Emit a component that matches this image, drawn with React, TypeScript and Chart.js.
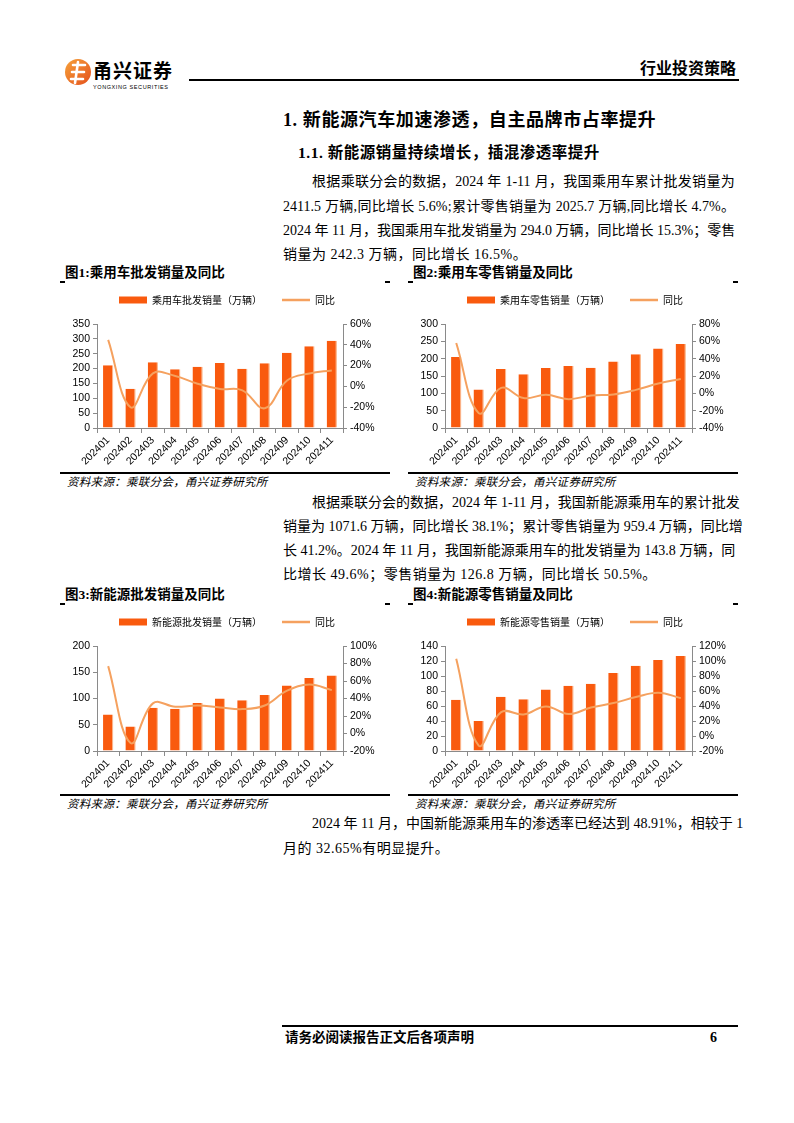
import React, { useEffect, useRef } from 'react';
import { Chart, registerables } from 'chart.js';
Chart.register(...registerables);

const months = ['202401', '202402', '202403', '202404', '202405', '202406', '202407', '202408', '202409', '202410', '202411'];
const pvWholesale = [211, 132, 221, 198, 206, 219, 199, 218, 253, 275, 294];
const pvWholesaleYoY = [44.7, -20, 12.5, 10, 2.5, -2.5, -3.8, -21, 5.7, 12.5, 15.3];
const pvRetail = [205, 111, 170, 155, 173, 179, 174, 192, 213, 229, 242.3];
const pvRetailYoY = [58, -22.8, 6.3, -5.5, -1.7, -6.7, -2.5, -1.3, 4, 11.3, 16.5];
const nevWholesale = [69.6, 46.6, 82.4, 80.5, 91.4, 100, 96.5, 106.7, 125, 139, 143.8];
const nevWholesaleYoY = [77, -10.8, 34.4, 30.6, 32, 29.8, 27.9, 32, 49, 55.9, 49.6];
const nevRetail = [68.2, 40.1, 72.2, 69.1, 82, 86.9, 89.6, 103.9, 113.7, 121.3, 126.8];
const nevRetailYoY = [103, -12.8, 31.9, 28.7, 39.4, 29.2, 38, 43.9, 51.9, 57.7, 50.5];

const BAR = '#F95A0E';
const LINE = '#F5A15F';
const AXIS = '#8a8a8a';
const SERIF = "'Liberation Serif', 'Noto Sans CJK SC', serif";
const CJK = "'Noto Sans CJK SC', sans-serif";

const legendSpacer = {
  id: 'legendSpacer',
  beforeLayout(chart: any) {
    const lg = chart.legend;
    if (lg && !lg._spaced) {
      const f = lg.fit;
      lg.fit = function () {
        f.call(this);
        this.height += 9;
      };
      lg._spaced = true;
    }
  },
};

type BoxProps = {
  left: number; top: number; width: number; height: number;
  barLabel: string; bars: number[]; yoy: number[];
  yMax: number; yStep: number; rMin: number; rMax: number;
  leftW: number; rightW: number;
};

function ChartBox(p: BoxProps) {
  const ref = useRef<HTMLCanvasElement>(null);
  useEffect(() => {
    const tickFont = { family: "'Liberation Sans', Arial, sans-serif", size: 10.5 };
    const chart = new Chart(ref.current!, {
      type: 'bar',
      data: {
        labels: months,
        datasets: [
          {
            type: 'bar', label: p.barLabel, data: p.bars, backgroundColor: BAR,
            borderColor: '#FBB98F', borderWidth: { top: 0, left: 0, bottom: 0, right: 1.2 } as any,
            barPercentage: 0.46, categoryPercentage: 1, yAxisID: 'y', order: 1,
          } as any,
          {
            type: 'line', label: '同比', data: p.yoy, borderColor: LINE, backgroundColor: LINE,
            borderWidth: 2, pointRadius: 0, tension: 0.4, yAxisID: 'y1', order: 0,
          } as any,
        ],
      },
      options: {
        animation: false,
        responsive: false,
        maintainAspectRatio: false,
        layout: { padding: 0 },
        plugins: {
          tooltip: { enabled: false },
          legend: {
            display: true,
            position: 'top',
            labels: {
              usePointStyle: true,
              pointStyleWidth: 28,
              boxHeight: 7,
              padding: 20,
              color: '#000',
              font: { family: CJK, size: 10 },
              sort: (a: any, b: any) => a.datasetIndex - b.datasetIndex,
              generateLabels: (chart: any) =>
                (Chart.defaults.plugins.legend.labels.generateLabels as any)(chart).map((it: any) => ({
                  ...it,
                  pointStyle: it.datasetIndex === 0 ? 'rect' : 'line',
                  lineWidth: it.datasetIndex === 0 ? 0 : 2.5,
                  fillStyle: it.datasetIndex === 0 ? BAR : LINE,
                  strokeStyle: it.datasetIndex === 0 ? BAR : LINE,
                })),
            },
          },
        },
        scales: {
          x: {
            grid: { display: true, drawOnChartArea: false, drawTicks: true, tickLength: 5, offset: true, color: AXIS },
            border: { color: AXIS },
            ticks: { color: '#000', font: tickFont, minRotation: 45, maxRotation: 45, autoSkip: false, padding: 1 },
            afterFit: (s: any) => { s.height = 42; },
          },
          y: {
            position: 'left', min: 0, max: p.yMax,
            grid: { display: true, drawOnChartArea: false, drawTicks: true, tickLength: 4, color: AXIS },
            border: { color: AXIS },
            ticks: { stepSize: p.yStep, autoSkip: false, color: '#000', font: tickFont, padding: 3 },
            afterFit: (s: any) => { s.width = p.leftW; },
          },
          y1: {
            position: 'right', min: p.rMin, max: p.rMax,
            grid: { display: true, drawOnChartArea: false, drawTicks: true, tickLength: 4, color: AXIS },
            border: { color: AXIS },
            ticks: { stepSize: 20, autoSkip: false, color: '#000', font: tickFont, padding: 3, callback: (v: any) => v + '%' },
            afterFit: (s: any) => { s.width = p.rightW; },
          },
        },
      } as any,
      plugins: [legendSpacer],
    });
    return () => chart.destroy();
  }, []);
  return (
    <canvas
      ref={ref}
      width={p.width}
      height={p.height}
      style={{ position: 'absolute', left: p.left, top: p.top, width: p.width, height: p.height }}
    />
  );
}

function T(props: { x: number; cy: number; size: number; text: string; bold?: boolean; italic?: boolean; family?: string; spacing?: number }) {
  const { x, cy, size, text, bold, italic, family, spacing } = props;
  return (
    <div
      style={{
        position: 'absolute', left: x, top: cy - size * 0.6, height: size * 1.2, lineHeight: size * 1.2 + 'px',
        fontSize: size, fontFamily: family || SERIF, fontWeight: bold ? 700 : 400, fontStyle: italic ? 'italic' : 'normal',
        color: '#000', whiteSpace: 'nowrap', letterSpacing: spacing,
      } as any}
    >
      {text}
    </div>
  );
}

// justified line: tokens spread evenly across width
function J(props: { x: number; cy: number; w: number; size: number; text: string }) {
  const { x, cy, w, size, text } = props;
  const tokens = text.match(/[A-Za-z0-9.%\-]+|\s|./g) || [];
  return (
    <div
      style={{
        position: 'absolute', left: x, top: cy - size * 0.6, width: w, height: size * 1.2, lineHeight: size * 1.2 + 'px',
        fontSize: size, fontFamily: SERIF, color: '#000', display: 'flex', justifyContent: 'space-between', whiteSpace: 'nowrap',
      }}
    >
      {tokens.map((t, i) => (
        <span key={i}>{t === ' ' ? '\u00a0' : t}</span>
      ))}
    </div>
  );
}

function HLine(props: { x1: number; x2: number; y: number; t?: number }) {
  const t = props.t || 1;
  return <div style={{ position: 'absolute', left: props.x1, top: props.y - t / 2, width: props.x2 - props.x1, height: t, background: '#000' }} />;
}

function Figure(props: { x: number; right: number; titleCy: number; segY: number; bottomY: number; title: string }) {
  const { x, right, titleCy, segY, bottomY, title } = props;
  return (
    <>
      <T x={x + 5} cy={titleCy} size={13.5} bold text={title} />
      <HLine x1={x} x2={x + 5} y={segY} t={1.2} />
      <HLine x1={right - 5} x2={right} y={segY} t={1.2} />
      <HLine x1={x} x2={right} y={bottomY} t={1.5} />
      <T x={x + 7} cy={bottomY + 9} size={11.5} italic family={CJK} text="资料来源：乘联分会，甬兴证券研究所" spacing={0.3} />
    </>
  );
}

export default function App() {
  const pw = 452;
  return (
    <div style={{ position: 'absolute', left: 0, top: 0, width: 794, height: 1123, background: '#fff', overflow: 'hidden' }}>
      {/* header */}
      <svg style={{ position: 'absolute', left: 64, top: 57 }} width={28} height={30} viewBox="0 0 28 30">
        <defs>
          <linearGradient id="lg" x1="0" y1="0" x2="1" y2="1">
            <stop offset="0" stopColor="#F6A23A" />
            <stop offset="1" stopColor="#E4501C" />
          </linearGradient>
        </defs>
        <circle cx="14" cy="15" r="13" fill="url(#lg)" />
        <path d="M9 8 H21 M8 15 H20 M7 22 H19 M14 5 L11 26" stroke="#fff" strokeWidth="2.6" fill="none" strokeLinecap="round" />
      </svg>
      <T x={93} cy={70} size={19} bold family={CJK} text="甬兴证券" spacing={1} />
      <T x={93} cy={87} size={5.5} family="'Liberation Sans', sans-serif" text="YONGXING  SECURITIES" spacing={0.6} />
      <T x={640} cy={68} size={16} bold family={CJK} text="行业投资策略" />
      <HLine x1={189} x2={739} y={80} t={2} />

      {/* headings */}
      <T x={283} cy={121} size={18} bold text="1. 新能源汽车加速渗透，自主品牌市占率提升" spacing={0.6} />
      <T x={298} cy={153} size={15.5} bold text="1.1. 新能源销量持续增长，插混渗透率提升" spacing={0.5} />

      {/* paragraph 1 */}
      <J x={312} w={pw - 29} cy={182} size={14} text="根据乘联分会的数据，2024 年 1-11 月，我国乘用车累计批发销量为" />
      <J x={283} w={pw} cy={207} size={14} text="2411.5 万辆,同比增长 5.6%;累计零售销量为 2025.7 万辆,同比增长 4.7%。" />
      <J x={283} w={pw} cy={231} size={14} text="2024 年 11 月，我国乘用车批发销量为 294.0 万辆，同比增长 15.3%；零售" />
      <T x={283} cy={255} size={14} text="销量为 242.3 万辆，同比增长 16.5%。" spacing={0.5} />

      {/* figures 1 & 2 */}
      <Figure x={60} right={390} titleCy={273} segY={282} bottomY={473} title="图1:乘用车批发销量及同比" />
      <Figure x={408} right={738} titleCy={273} segY={282} bottomY={473} title="图2:乘用车零售销量及同比" />
      <ChartBox left={62} top={275} width={330} height={195} barLabel="乘用车批发销量（万辆）" bars={pvWholesale} yoy={pvWholesaleYoY} yMax={350} yStep={50} rMin={-40} rMax={60} leftW={35} rightW={49} />
      <ChartBox left={410} top={275} width={330} height={195} barLabel="乘用车零售销量（万辆）" bars={pvRetail} yoy={pvRetailYoY} yMax={300} yStep={50} rMin={-40} rMax={80} leftW={35} rightW={48} />

      {/* paragraph 2 */}
      <J x={312} w={pw - 29} cy={503} size={14} text="根据乘联分会的数据，2024 年 1-11 月，我国新能源乘用车的累计批发" />
      <J x={283} w={pw} cy={527} size={14} text="销量为 1071.6 万辆，同比增长 38.1%；累计零售销量为 959.4 万辆，同比增" />
      <J x={283} w={pw} cy={551} size={14} text="长 41.2%。2024 年 11 月，我国新能源乘用车的批发销量为 143.8 万辆，同" />
      <T x={283} cy={575} size={14} text="比增长 49.6%；零售销量为 126.8 万辆，同比增长 50.5%。" spacing={0.5} />

      {/* figures 3 & 4 */}
      <Figure x={60} right={390} titleCy={595} segY={604} bottomY={795} title="图3:新能源批发销量及同比" />
      <Figure x={408} right={738} titleCy={595} segY={604} bottomY={795} title="图4:新能源零售销量及同比" />
      <ChartBox left={62} top={597} width={330} height={196} barLabel="新能源批发销量（万辆）" bars={nevWholesale} yoy={nevWholesaleYoY} yMax={200} yStep={50} rMin={-20} rMax={100} leftW={35} rightW={49} />
      <ChartBox left={410} top={597} width={330} height={196} barLabel="新能源零售销量（万辆）" bars={nevRetail} yoy={nevRetailYoY} yMax={140} yStep={20} rMin={-20} rMax={120} leftW={35} rightW={48} />

      {/* paragraph 3 */}
      <J x={312} w={pw - 29} cy={824} size={14} text="2024 年 11 月，中国新能源乘用车的渗透率已经达到 48.91%，相较于 1" />
      <T x={283} cy={849} size={14} text="月的 32.65%有明显提升。" spacing={0.5} />

      {/* footer */}
      <HLine x1={282} x2={738} y={1026} t={1.2} />
      <T x={285} cy={1038} size={13.5} bold text="请务必阅读报告正文后各项声明" />
      <T x={710} cy={1038} size={14} bold text="6" />
    </div>
  );
}
